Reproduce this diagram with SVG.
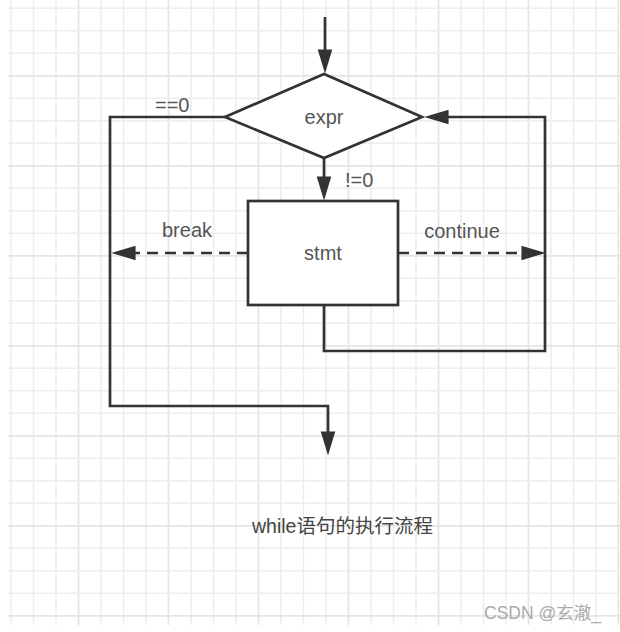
<svg xmlns="http://www.w3.org/2000/svg" width="620" height="632" viewBox="0 0 620 632">
<style>
.grid{fill:none;stroke:#ededed;stroke-width:1.5}
.gridm{fill:none;stroke:#e5e5e5;stroke-width:1.8}
.ln{fill:none;stroke:#333;stroke-width:2.7}
.dash{stroke-dasharray:11 7}
.shape{fill:#fff;stroke:#333;stroke-width:2.7}
.t{font-family:"Liberation Sans","Noto Sans CJK SC",sans-serif;font-size:20px;fill:#555}
.tc{text-anchor:middle}
</style>
<defs>
<marker id="ah" markerUnits="userSpaceOnUse" markerWidth="24" markerHeight="16" viewBox="0 0 23 14" refX="13" refY="7" orient="auto">
<path d="M0,0 L23,7 L0,14 z" fill="#333"/>
</marker>
</defs>
<rect width="620" height="632" fill="#fff"/>
<g id="grid">
<path class="grid" d="M11,0V625M33.5,0V625M56,0V625M101,0V625M123.5,0V625M146,0V625M191,0V625M213.5,0V625M236,0V625M281,0V625M303.5,0V625M326,0V625M371,0V625M393.5,0V625M416,0V625M461,0V625M483.5,0V625M506,0V625M551,0V625M573.5,0V625M596,0V625"/>
<path class="gridm" d="M78.5,0V625M168.5,0V625M258.5,0V625M348.5,0V625M438.5,0V625M528.5,0V625M618.5,0V625"/>
<path class="grid" d="M8,8.3H620M8,30.8H620M8,53.3H620M8,98.3H620M8,120.8H620M8,143.3H620M8,188.3H620M8,210.8H620M8,233.3H620M8,278.3H620M8,300.8H620M8,323.3H620M8,368.3H620M8,390.8H620M8,413.3H620M8,458.3H620M8,480.8H620M8,503.3H620M8,548.3H620M8,570.8H620M8,593.3H620"/>
<path class="gridm" d="M8,75.8H620M8,165.8H620M8,255.8H620M8,345.8H620M8,435.8H620M8,525.8H620M8,615.8H620"/>
</g>
<g id="connectors">
<path class="ln" d="M325,17V63" marker-end="url(#ah)"/>
<path class="ln" d="M324,158V190" marker-end="url(#ah)"/>
<path class="ln" d="M225,117H110V406H328V445" marker-end="url(#ah)"/>
<path class="ln dash" d="M248,253H122" marker-end="url(#ah)"/>
<path class="ln dash" d="M398,253H535" marker-end="url(#ah)"/>
<path class="ln" d="M324,305V351H545V117H435" marker-end="url(#ah)"/>
</g>
<g id="expr">
<polygon class="shape" points="225,117 324,74 422,117 324,158"/>
<text class="t tc" x="324" y="124">expr</text>
</g>
<g id="stmt">
<rect class="shape" x="248" y="201" width="150" height="104"/>
<text class="t tc" x="323" y="260">stmt</text>
</g>
<g id="labels">
<text class="t" x="155" y="112">==0</text>
<text class="t" x="345" y="187">!=0</text>
<text class="t tc" x="187" y="237">break</text>
<text class="t tc" x="462" y="238">continue</text>
<text class="t" x="252" y="533" style="font-size:19.5px;fill:#444">while语句的执行流程</text>
<text class="t" x="484" y="619" style="font-size:17.5px;fill:#aaa">CSDN @玄澈_</text>
</g>
</svg>
